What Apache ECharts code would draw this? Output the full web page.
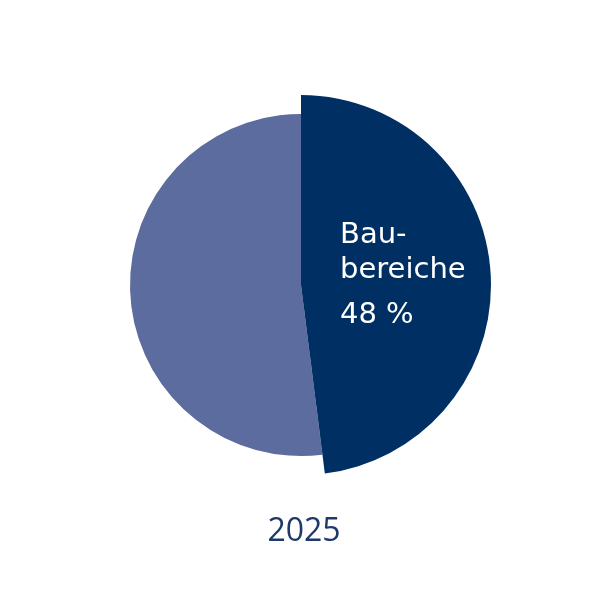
<!DOCTYPE html>
<html><head><meta charset="utf-8">
<script src="https://cdn.jsdelivr.net/npm/echarts@6/dist/echarts.min.js"></script>
<style>html,body{margin:0;padding:0;background:#fff}#c{width:608px;height:608px}</style>
</head><body><div id="c"></div>
<script>
const categories = ['Baubereiche', 'Übrige'];
const values = [48, 52];
const labelTexts = ['Bau-\nbereiche', ''];
const yearLabel = '2025';
const colors = ['#002f63', '#5d6c9e'];

const chart = echarts.init(document.getElementById('c'));
const center = [301, 285];
chart.setOption({
  animation: false,
  title: {
    text: yearLabel, left: 'center', top: 511,
    textStyle: { fontFamily: 'Open Sans', fontWeight: 'normal', fontSize: 32, color: '#1d3a6a' }
  },
  series: [
    {
      type: 'pie', center: center, radius: [0, 190], startAngle: 90, clockwise: true,
      silent: true,
      data: categories.map((c, i) => ({
        name: c, value: values[i],
        itemStyle: { color: i === 0 ? colors[0] : 'rgba(0,0,0,0)' },
        label: i === 0 ? {
          show: true, position: 'inside',
          formatter: () => '{n|' + labelTexts[0] + '}\n{p|' + values[0] + ' %}',
          rich: {
            n: { fontFamily: 'DejaVu Sans', fontSize: 29, lineHeight: 35, color: '#fff', align: 'left' },
            p: { fontFamily: 'DejaVu Sans', fontSize: 29, lineHeight: 55, color: '#fff', align: 'left' }
          }
        } : { show: false }
      })),
      labelLayout: (p) => p.dataIndex === 0 ? { x: 340, y: 218, align: 'left', verticalAlign: 'top' } : {},
      labelLine: { show: false }
    },
    {
      type: 'pie', center: center, radius: [0, 171], startAngle: 90, clockwise: true,
      silent: true, z: 1,
      data: categories.map((c, i) => ({
        name: c, value: values[i],
        itemStyle: { color: i === 1 ? colors[1] : 'rgba(0,0,0,0)' }
      })),
      label: { show: false }, labelLine: { show: false }
    }
  ]
});
</script></body></html>
